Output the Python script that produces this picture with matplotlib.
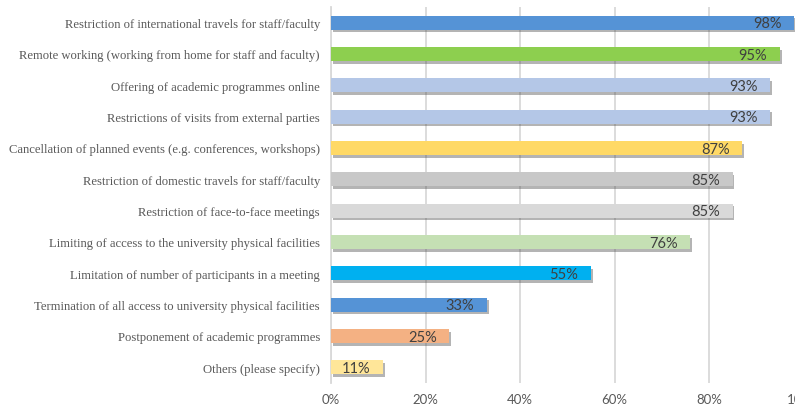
import matplotlib
matplotlib.use("Agg")
import matplotlib.pyplot as plt
import matplotlib.patheffects as pe
from matplotlib.ticker import FuncFormatter

# survey measures, top to bottom as in the chart
measures = [
    "Restriction of international travels for staff/faculty",
    "Remote working (working from home for staff and faculty)",
    "Offering of academic programmes online",
    "Restrictions of visits from external parties",
    "Cancellation of planned events (e.g. conferences, workshops)",
    "Restriction of domestic travels for staff/faculty",
    "Restriction of face-to-face meetings",
    "Limiting of access to the university physical facilities",
    "Limitation of number of participants in a meeting",
    "Termination of all access to university physical facilities",
    "Postponement of academic programmes",
    "Others (please specify)",
]
pct = [98, 95, 93, 93, 87, 85, 85, 76, 55, 33, 25, 11]
bar_colors = ["#5593d6", "#8dcf4f", "#b4c7e7", "#b4c7e7", "#ffd966", "#c8c8c8",
              "#d9d9d9", "#c5e0b4", "#00b0f0", "#5593d6", "#f4b183", "#ffe699"]
xticks = [0, 20, 40, 60, 80, 100]

fig = plt.figure(figsize=(7.95, 4.06), dpi=100)
# axes run past the right edge, like the cropped original
ax = fig.add_axes([331 / 795, 1 - 384 / 406, 472.5 / 795, 376 / 406])

ypos = list(range(len(measures)))
bars = ax.barh(ypos, pct, height=0.45, color=bar_colors, zorder=3)
for b in bars:
    b.set_path_effects([pe.withSimplePatchShadow(offset=(1.2, -2), shadow_rgbFace="#444444", alpha=0.4),
                        pe.Normal()])

for y, v in zip(ypos, pct):
    ax.annotate(f"{v}%", xy=(v, y), xytext=(-9, -0.5), textcoords="offset points",
                ha="right", va="center", fontsize=10.5, family="Lato", color="#404040", zorder=4)

ax.set_xlim(0, 100)
ax.set_ylim(11.5, -0.5)
ax.set_xticks(xticks)
ax.xaxis.set_major_formatter(FuncFormatter(lambda v, p: f"{v:.0f}%"))
ax.set_yticks(ypos)
ax.set_yticklabels(measures, family="Liberation Serif", fontsize=9.1, color="#595959")
for lab in ax.get_xticklabels():
    lab.set_family("Lato")
    lab.set_fontsize(9.5)
    lab.set_color("#595959")
ax.tick_params(axis="both", length=0)
ax.tick_params(axis="y", pad=8)
ax.tick_params(axis="x", pad=7)

ax.grid(axis="x", color="#d9d9d9", linewidth=1.3, zorder=0)
for s in ["top", "right", "bottom"]:
    ax.spines[s].set_visible(False)
ax.spines["left"].set_color("#d9d9d9")
ax.spines["left"].set_linewidth(1.3)

plt.savefig("out.png", dpi=100)
